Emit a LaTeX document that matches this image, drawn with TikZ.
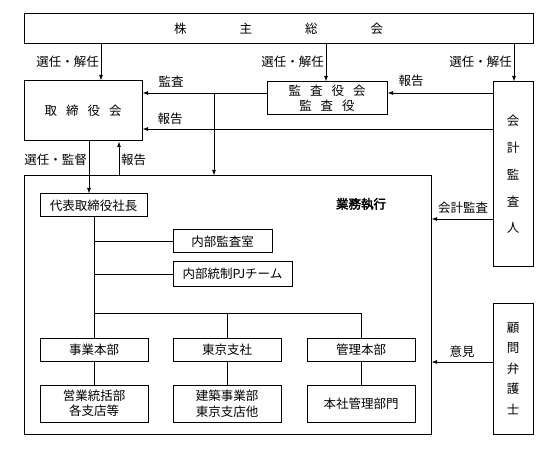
\documentclass[tikz,border=0pt]{standalone}
\usepackage{fontspec}
\setmainfont{Noto Sans CJK JP}
\newfontfamily\jpbold[FakeBold=2.5]{Noto Sans CJK JP}
\usetikzlibrary{arrows.meta}
\begin{document}
\begin{tikzpicture}[x=1pt,y=-1pt,
  box/.style={draw, line width=1pt, inner sep=0pt, align=center, font=\fontsize{12.5}{15}\selectfont},
  lbl/.style={inner sep=1pt, font=\fontsize{12.5}{15}\selectfont},
  arr/.style={line width=0.9pt, -{Latex[length=5.5pt,width=4pt]}},
  ln/.style={line width=0.9pt}]
\useasboundingbox (0,0) rectangle (549,449);
% boxes
\node[box, minimum width=509pt, minimum height=30pt] (sh) at (278.5,29) {株\hspace{53pt}主\hspace{53pt}総\hspace{53pt}会};
\node[box, minimum width=118pt, minimum height=60pt] (tb) at (83,111) {取\hspace{9pt}締\hspace{9pt}役\hspace{9pt}会};
\node[box, minimum width=120pt, minimum height=33pt, font=\fontsize{12.5}{14.5}\selectfont] (ka) at (327,98.5) {監\hspace{9pt}査\hspace{9pt}役\hspace{9pt}会\\監\hspace{9pt}査\hspace{9pt}役};
\node[box, minimum width=40pt, minimum height=185pt, font=\fontsize{12.5}{26.8}\selectfont] (kk) at (513,174.5) {会\\計\\監\\査\\人};
\node[box, minimum width=407pt, minimum height=258pt] (gy) at (227.5,305) {};
\node[box, minimum width=40pt, minimum height=131pt, font=\fontsize{12.5}{20.5}\selectfont] (kb) at (513,368.5) {顧\\問\\弁\\護\\士};
\node[lbl, font=\fontsize{12.5}{15}\jpbold] (gyl) at (361,204) {業務執行};
\node[box, minimum width=107pt, minimum height=23pt] (ds) at (93.5,205.5) {代表取締役社長};
\node[box, minimum width=99pt, minimum height=23pt] (nk) at (222.5,241.5) {内部監査室};
\node[box, minimum width=119pt, minimum height=24pt] (pj) at (232.5,274) {内部統制PJチーム};
\node[box, minimum width=108pt, minimum height=23pt] (jg) at (94,349.5) {事業本部};
\node[box, minimum width=108pt, minimum height=23pt] (tk) at (227,349.5) {東京支社};
\node[box, minimum width=108pt, minimum height=23pt] (kr) at (361,349.5) {管理本部};
\node[box, minimum width=108pt, minimum height=37pt, font=\fontsize{12.5}{15.5}\selectfont] (eg) at (94,403.5) {営業統括部\\各支店等};
\node[box, minimum width=108pt, minimum height=37pt, font=\fontsize{12.5}{15.5}\selectfont] (kc) at (227,403.5) {建築事業部\\東京支店他};
\node[box, minimum width=108pt, minimum height=37pt] (hs) at (361,403.5) {本社管理部門};
% helper coordinates
\coordinate (x1) at (101,0);
\coordinate (x2) at (326,0);
\coordinate (x3) at (514,0);
\coordinate (x4) at (89,0);
\coordinate (x5) at (119,0);
\coordinate (v1) at (214,93);
\coordinate (y1) at (0,93);
\coordinate (y2) at (0,129);
\coordinate (y3) at (0,219);
\coordinate (y4) at (0,362);
\coordinate (h) at (0,313);
% shareholders
\draw[arr] (x1 |- sh.south) -- (x1 |- tb.north);
\draw[arr] (x2 |- sh.south) -- (x2 |- ka.north);
\draw[arr] (x3 |- sh.south) -- (x3 |- kk.north);
\node[lbl, anchor=east] (l1) at (100,62) {選任・解任};
\node[lbl, anchor=east] (l2) at (325,62) {選任・解任};
\node[lbl, anchor=east] (l3) at (513,62) {選任・解任};
% audit
\draw[arr] (y1 -| ka.west) -- (y1 -| tb.east);
\node[lbl] (l4) at (171,82) {監査};
\draw[arr] (v1) -- (v1 |- gy.north);
\draw[arr] (y1 -| kk.west) -- (y1 -| ka.east);
\node[lbl] (l5) at (411,81) {報告};
\draw[arr] (y2 -| kk.west) -- (y2 -| tb.east);
\node[lbl] (l6) at (170,119) {報告};
% board to execution
\draw[arr] (x4 |- tb.south) -- (x4 |- ds.north);
\node[lbl, anchor=east] (l7) at (88,160) {選任・監督};
\draw[arr] (x5 |- gy.north) -- (x5 |- tb.south);
\node[lbl, anchor=west] (l8) at (120,160) {報告};
% accounting auditor, lawyer
\draw[arr] (y3 -| kk.west) -- (y3 -| gy.east);
\node[lbl] (l9) at (463,208) {会計監査};
\draw[arr] (y4 -| kb.west) -- (y4 -| gy.east);
\node[lbl] (l10) at (462,352) {意見};
% org tree
\draw[ln] (jg.north |- ds.south) -- (jg.north);
\draw[ln] (jg.north |- nk.west) -- (nk.west);
\draw[ln] (jg.north |- pj.west) -- (pj.west);
\draw[ln] (h -| jg.north) -- (h -| kr.north);
\draw[ln] (h -| tk.north) -- (tk.north);
\draw[ln] (h -| kr.north) -- (kr.north);
\draw[ln] (jg.south) -- (eg.north);
\draw[ln] (tk.south) -- (kc.north);
\draw[ln] (kr.south) -- (hs.north);
\end{tikzpicture}
\end{document}
